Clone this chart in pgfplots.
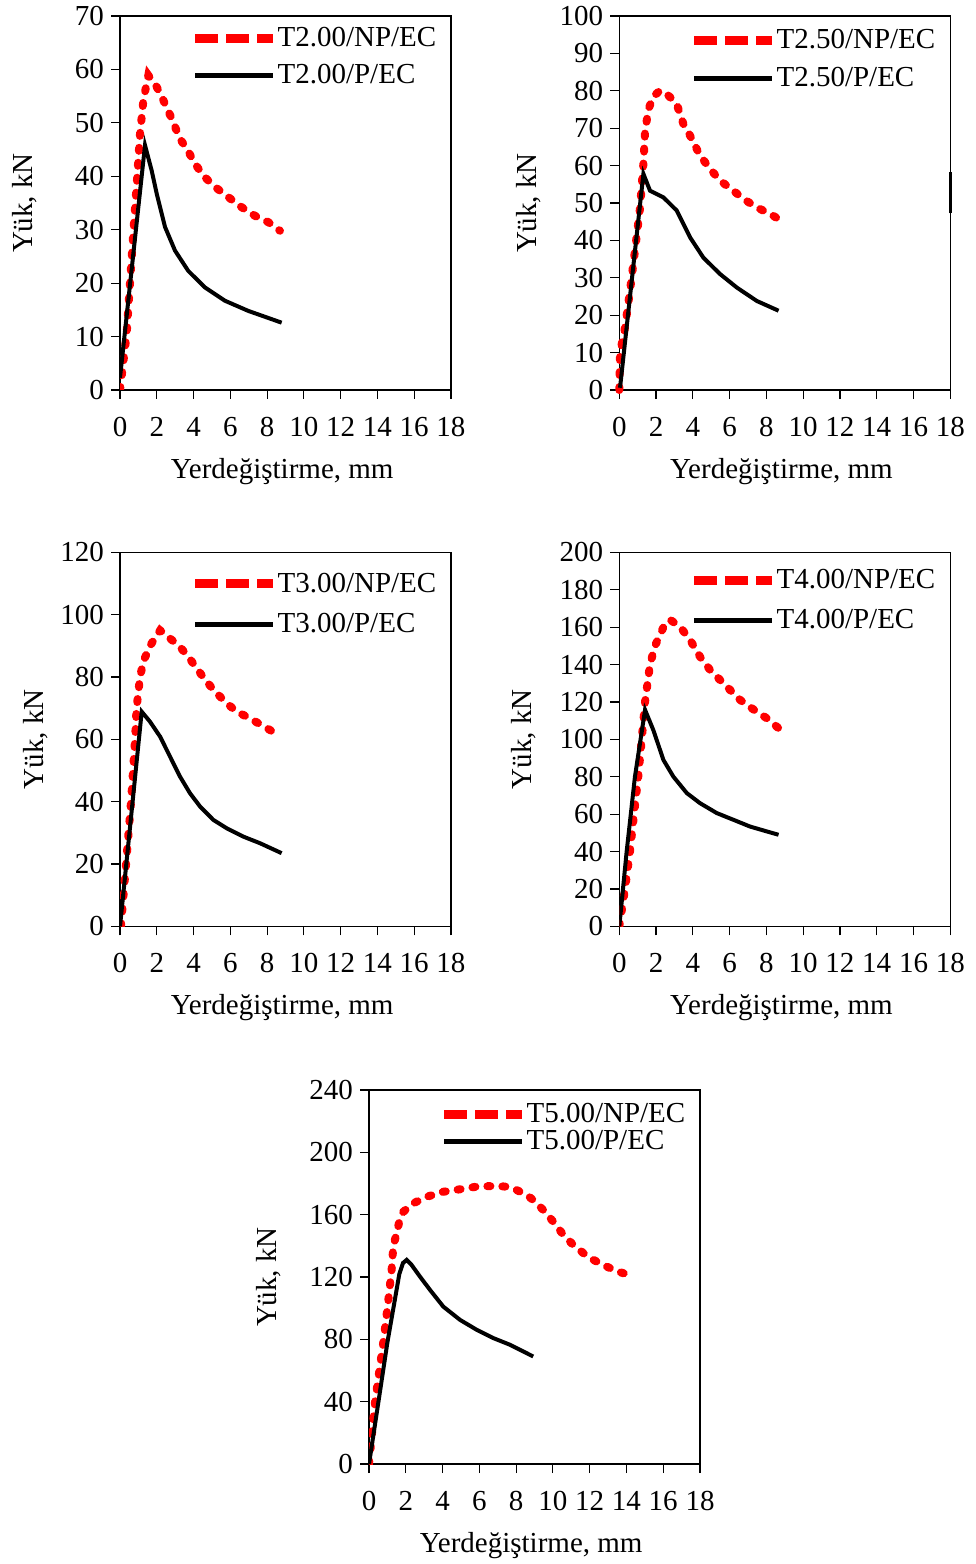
\documentclass[border=0pt]{standalone}
\usepackage{fontspec}
\setmainfont{Liberation Serif}
\usepackage{pgfplots}
\pgfplotsset{compat=1.18}
\newcommand\fs{\fontsize{14.5}{17}\selectfont}

\pgfplotsset{
  panel/.style={
    scale only axis, width=165.5pt, height=187pt,
    xmin=0, xmax=18, ymin=0, xtick={0,2,...,18},
    tick align=outside, xtick pos=left, ytick pos=left,
    major tick length=4.5pt,
    axis line style={line width=0.6pt},
    tick style={line width=0.6pt, black},
    ticklabel style={font=\fs},
    xticklabel style={yshift=-5.5pt},
    xlabel={Yerdeğiştirme, mm}, ylabel={Yük, kN},
    /pgf/number format/assume math mode=true,
    legend cell align=left,
    legend style={draw=none, fill=none, anchor=north west, inner sep=0pt,
      font=\fs, nodes={inner xsep=0pt, inner ysep=1pt}, row sep=5.5pt},
    every axis x label/.style={at={(axis description cs:0.49,-0.236)}, anchor=base, font=\fs},
  },
  ylab/.style={every axis y label/.style={at={(axis description cs:#1,0.5)},
    rotate=90, anchor=center, font=\fs}},
  np/.style={red, line width=4pt, line cap=round, dash pattern=on 1.5pt off 6pt,
    legend image code/.code={\draw[red, line width=4.5pt, line cap=butt,
      dash pattern=on 11.5pt off 4pt] (0pt,0pt) -- (39pt,0pt);}},
  p/.style={black, line width=2pt,
    legend image code/.code={\draw[black, line width=2.5pt, line cap=butt] (0pt,0pt) -- (39pt,0pt);}},
}

\begin{document}
\begin{tikzpicture}
\path[use as bounding box] (0,0) rectangle (487.5pt,-782pt);

% T2.00
\begin{axis}[panel, at={(60pt,-8pt)}, anchor=north west,
  ymax=70, ytick={0,10,...,70}, ylab=-0.287,
  legend style={at={(axis description cs:0.212,0.976)}}]
\addplot[np] coordinates {(0,0) (0.36,10.4) (0.54,19.8) (0.72,29.2) (0.91,38.6)
  (1.09,48) (1.27,54.2) (1.54,58.9) (2.0,56.7) (2.36,54.2) (2.81,50.8) (3.26,47)
  (3.63,45.2) (4.08,42.3) (4.62,39.8) (5.17,38) (5.89,36.1) (6.62,34.2)
  (7.34,32.6) (8.07,31.4) (8.7,29.8)};
\addlegendentry{T2.00/NP/EC}
\addplot[p] coordinates {(0,2.3) (1.36,45.8) (1.72,41.1) (2.0,36.7) (2.45,30.5)
  (2.99,26.1) (3.71,22.3) (4.62,19.2) (5.71,16.7) (6.98,14.8) (8.79,12.6)};
\addlegendentry{T2.00/P/EC}
\end{axis}

% T2.50
\begin{axis}[panel, at={(309.65pt,-8pt)}, anchor=north west, clip=false,
  ymax=100, ytick={0,10,...,100}, ylab=-0.273,
  legend style={at={(axis description cs:0.211,0.970)}}]
\addplot[np] coordinates {(0,0) (0.04,10) (0.31,16.7) (0.58,26.5) (0.85,37.2)
  (1.13,48.8) (1.31,60.5) (1.4,69) (1.58,75) (1.85,78.5) (2.2,80) (2.5,79.5)
  (2.76,78.3) (3.12,76.5) (3.48,71.2) (3.85,68) (4.39,62.7) (4.94,59.1) (5.48,56)
  (6.2,53.3) (6.75,51.1) (7.48,48.8) (8.2,47.1) (8.66,45.7)};
\addlegendentry{T2.50/NP/EC}
\addplot[p] coordinates {(0.04,0.6) (1.31,57.8) (1.67,53.3) (2.4,51.5) (3.12,48)
  (3.85,40.8) (4.57,35.4) (5.48,31) (6.39,27.4) (7.48,23.8) (8.66,21.2)};
\addlegendentry{T2.50/P/EC}
\addplot[black, line width=1.2pt, forget plot] coordinates {(18,47.2) (18,58.2)};
\end{axis}

% T3.00
\begin{axis}[panel, at={(60pt,-276.2pt)}, anchor=north west,
  ymax=120, ytick={0,20,...,120}, ylab=-0.254,
  legend style={at={(axis description cs:0.212,0.952)}, row sep=7pt}]
\addplot[np] coordinates {(0.05,0) (0.33,20) (0.6,40) (0.82,60) (0.9,70) (1.09,80)
  (1.27,85) (1.63,90) (2.18,95) (2.72,92.4) (3.26,89.7) (3.72,86.5) (4.17,82.8)
  (4.71,78.5) (5.26,74.8) (5.8,71.6) (6.35,68.9) (6.89,67.3) (7.52,65.2)
  (8.16,63) (8.7,60.9)};
\addlegendentry{T3.00/NP/EC}
\addplot[p] coordinates {(0,0) (1.18,68.9) (1.63,65.7) (2.18,60.9) (2.72,54.5)
  (3.26,48.1) (3.81,42.7) (4.35,38.5) (5.07,34.2) (5.8,31.5) (6.71,28.8)
  (7.61,26.7) (8.79,23.5)};
\addlegendentry{T3.00/P/EC}
\end{axis}

% T4.00
\begin{axis}[panel, at={(309.65pt,-276.2pt)}, anchor=north west,
  ymax=200, ytick={0,20,...,200}, ylab=-0.29,
  legend style={at={(axis description cs:0.211,0.961)}, row sep=7pt}]
\addplot[np] coordinates {(0,0) (0.31,20) (0.58,40) (0.8,60) (1.03,80) (1.22,100)
  (1.4,120) (1.67,140) (1.94,150) (2.4,160) (2.76,164) (3.3,160.3) (3.85,153.2)
  (4.39,144.2) (4.94,137.1) (5.48,131.8) (6.03,126.4) (6.57,121.1) (7.3,116)
  (8.02,111.3) (8.66,106)};
\addlegendentry{T4.00/NP/EC}
\addplot[p] coordinates {(0,0) (0.4,40) (0.85,80) (1.4,115.8) (1.85,105) (2.4,89)
  (2.94,80.1) (3.67,71.3) (4.39,65.9) (5.3,60.6) (6.21,57) (7.11,53.4)
  (8.02,50.8) (8.66,49)};
\addlegendentry{T4.00/P/EC}
\end{axis}

% T5.00
\begin{axis}[panel, at={(184.5pt,-545pt)}, anchor=north west,
  ymax=240, ytick={0,40,...,240}, ylab=-0.302,
  legend style={at={(axis description cs:0.212,0.970)}, row sep=0pt}]
\addplot[np] coordinates {(0,0) (0.33,40) (0.8,80) (1.05,105) (1.23,124.5)
  (1.32,139.5) (1.5,148) (1.69,157.7) (1.87,161.9) (2.41,167.3) (3.14,171.5)
  (4.04,174.7) (4.95,176.3) (5.86,178) (6.76,178.4) (7.49,178) (8.03,175.8)
  (8.58,172.6) (8.93,169.4) (9.48,163) (10.02,155.5) (10.57,147) (11.11,140.6)
  (11.66,135.3) (12.2,131) (12.93,126.7) (13.45,123.8) (13.85,122.4)};
\addlegendentry{T5.00/NP/EC}
\addplot[p] coordinates {(0,0) (0.45,35) (1.0,78) (1.4,105) (1.65,122) (1.85,129)
  (2.05,131) (2.3,128) (2.77,120.3) (3.32,111.7) (4.04,101) (4.95,92.5)
  (5.86,86.1) (6.76,80.8) (7.67,76.5) (8.93,69)};
\addlegendentry{T5.00/P/EC}
\end{axis}
\end{tikzpicture}
\end{document}
